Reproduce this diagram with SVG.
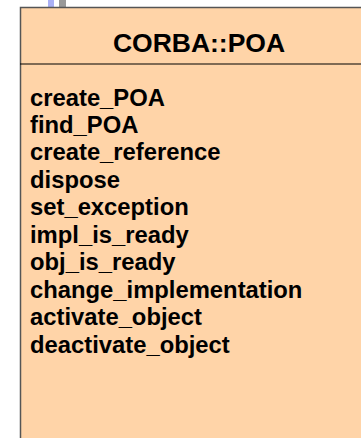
<svg xmlns="http://www.w3.org/2000/svg" width="361" height="438" viewBox="0 0 361 438">
  <style>
    .box { fill: #FFD4A8; stroke: #555; stroke-width: 1.5; }
    .div { stroke: #000; stroke-width: 1.2; }
    .title { font-family: "Liberation Sans", Arial, sans-serif; font-weight: bold; font-size: 26.5px; fill: #000; text-anchor: middle; }
    .item { font-family: "Liberation Sans", Arial, sans-serif; font-weight: bold; font-size: 23.8px; fill: #000; }
  </style>
  <rect x="48" y="0" width="6" height="8" fill="#AAB0F5"/>
  <rect x="59" y="0" width="7" height="8" fill="#999999"/>
  <g id="poa">
    <rect class="box" x="20.5" y="7.5" width="360" height="440"/>
    <line class="div" x1="20" y1="64" x2="361" y2="64"/>
    <text class="title" x="199" y="52">CORBA::POA</text>
    <text class="item" x="30" y="105.5">create_POA</text>
    <text class="item" x="30" y="132.95">find_POA</text>
    <text class="item" x="30" y="160.4">create_reference</text>
    <text class="item" x="30" y="187.85">dispose</text>
    <text class="item" x="30" y="215.3">set_exception</text>
    <text class="item" x="30" y="242.75">impl_is_ready</text>
    <text class="item" x="30" y="270.2">obj_is_ready</text>
    <text class="item" x="30" y="297.65">change_implementation</text>
    <text class="item" x="30" y="325.1">activate_object</text>
    <text class="item" x="30" y="352.55">deactivate_object</text>
  </g>
  <g id="connectors"/>
</svg>
